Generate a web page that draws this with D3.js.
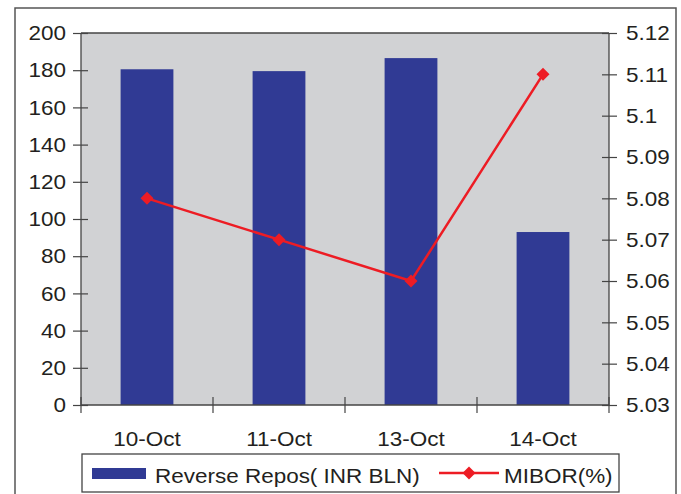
<!DOCTYPE html>
<html>
<head>
<meta charset="utf-8">
<script src="https://cdn.jsdelivr.net/npm/d3@7"></script>
<style>
  html, body { margin: 0; padding: 0; background: #fff; }
  svg text { font-family: "Liberation Sans", Arial, Helvetica, sans-serif; fill: #231f20; }
</style>
</head>
<body>
<svg id="chart" width="681" height="494"></svg>
<script>
const categories = ["10-Oct", "11-Oct", "13-Oct", "14-Oct"];
const reverseRepos = [180.5, 179.5, 186.5, 93];
const mibor = [5.08, 5.07, 5.06, 5.11];
const leftTicks = [0, 20, 40, 60, 80, 100, 120, 140, 160, 180, 200];
const rightTicks = [5.03, 5.04, 5.05, 5.06, 5.07, 5.08, 5.09, 5.1, 5.11, 5.12];
const seriesNames = ["Reverse Repos( INR BLN)", "MIBOR(%)"];

const svg = d3.select("#chart");
const L = 81, R = 609, T = 33, B = 405;
const axisColor = "#444";
const barColor = "#303a94";
const lineColor = "#ed1c24";
const fontSize = 21;
const stretch = 1.07;

// outer frame
svg.append("rect").attr("x", 15).attr("y", 8).attr("width", 661).attr("height", 500)
  .attr("fill", "none").attr("stroke", "#555").attr("stroke-width", 1.5);

// plot background
svg.append("rect").attr("x", L).attr("y", T).attr("width", R - L).attr("height", B - T)
  .attr("fill", "#d1d2d4");

const x = d3.scaleBand().domain(categories).range([L, R]).paddingInner(0.6).paddingOuter(0.3);
const xb = d3.scaleBand().domain(categories).range([L, R]);
const yL = d3.scaleLinear().domain([0, 200]).range([B, T]);
const yR = d3.scaleLinear().domain([5.03, 5.12]).range([B, T]);

// bars
svg.append("g").selectAll("rect").data(categories).join("rect")
  .attr("x", d => x(d))
  .attr("width", x.bandwidth())
  .attr("y", (d, i) => yL(reverseRepos[i]))
  .attr("height", (d, i) => B - yL(reverseRepos[i]))
  .attr("fill", barColor);

// top frame line
svg.append("line").attr("x1", L).attr("x2", R).attr("y1", T).attr("y2", T)
  .attr("stroke", axisColor).attr("stroke-width", 1.3);

// left axis
const gL = svg.append("g").attr("transform", `translate(${L},0)`)
  .call(d3.axisLeft(yL).tickValues(leftTicks).tickSize(8).tickPadding(7).tickFormat(d3.format("d")));
gL.selectAll(".tick line").attr("x1", 7).attr("x2", -8);

// right axis
const gR = svg.append("g").attr("transform", `translate(${R},0)`)
  .call(d3.axisRight(yR).tickValues(rightTicks).tickSize(8).tickPadding(9).tickFormat(d => String(+d.toFixed(2))));
gR.selectAll(".tick line").attr("x1", -7).attr("x2", 8);

// bottom axis with labels
const gB = svg.append("g").attr("transform", `translate(0,${B})`)
  .call(d3.axisBottom(xb).tickSize(0).tickPadding(26));
const bounds = categories.map(c => xb(c)).concat([xb(categories[categories.length - 1]) + xb.bandwidth()]);
gB.selectAll(".bound").data(bounds).join("line").attr("class", "bound")
  .attr("x1", d => d).attr("x2", d => d).attr("y1", -8).attr("y2", 8)
  .attr("stroke", axisColor).attr("stroke-width", 1.2);

[gL, gR, gB].forEach(g => {
  g.select(".domain").attr("stroke", axisColor).attr("stroke-width", 1.3);
  g.selectAll(".tick line").attr("stroke", axisColor).attr("stroke-width", 1.2);
  g.selectAll("text").attr("font-size", fontSize).attr("fill", "#231f20")
    .style("font-family", '"Liberation Sans", Arial, sans-serif');
});
gL.select(".domain").attr("d", `M0,${T}V${B}`);
gR.select(".domain").attr("d", `M0,${T}V${B}`);
gB.select(".domain").attr("d", `M${L},0H${R}`);

// MIBOR line
const lineGen = d3.line().x((d, i) => xb(categories[i]) + xb.bandwidth() / 2).y(d => yR(d));
svg.append("path").datum(mibor).attr("d", lineGen)
  .attr("fill", "none").attr("stroke", lineColor).attr("stroke-width", 2.5);
const diamond = d3.symbol().type(d3.symbolSquare).size(85);
svg.append("g").selectAll("path").data(mibor).join("path")
  .attr("d", diamond)
  .attr("transform", (d, i) => `translate(${xb(categories[i]) + xb.bandwidth() / 2},${yR(d)}) rotate(45)`)
  .attr("fill", lineColor);

// legend
const lg = svg.append("g");
lg.append("rect").attr("x", 82).attr("y", 454).attr("width", 537).attr("height", 38)
  .attr("fill", "#fff").attr("stroke", "#444").attr("stroke-width", 1.3);
lg.append("rect").attr("x", 92).attr("y", 468).attr("width", 54).attr("height", 11).attr("fill", barColor);
lg.append("text").attr("x", 155).attr("y", 483).attr("font-size", fontSize).text(seriesNames[0]);
lg.append("line").attr("x1", 439).attr("x2", 499).attr("y1", 473).attr("y2", 473)
  .attr("stroke", lineColor).attr("stroke-width", 2.5);
lg.append("path").attr("d", diamond).attr("transform", "translate(469,473) rotate(45)").attr("fill", lineColor);
lg.append("text").attr("x", 504).attr("y", 483).attr("font-size", fontSize).text(seriesNames[1]);

// slight horizontal stretch of all texts to match the reference typeface width
svg.selectAll("text").each(function () {
  const w = this.getComputedTextLength();
  d3.select(this).attr("textLength", w * stretch).attr("lengthAdjust", "spacingAndGlyphs");
});
</script>
</body>
</html>
